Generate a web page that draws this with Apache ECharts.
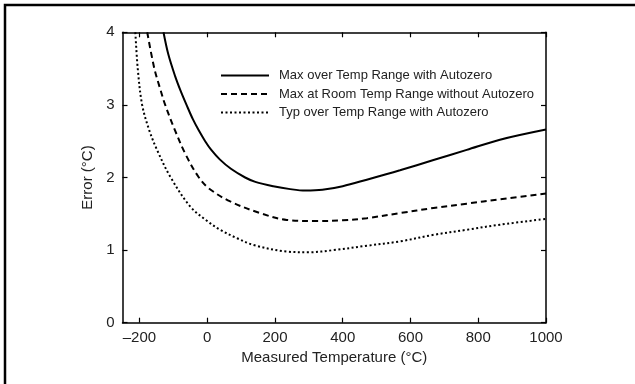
<!DOCTYPE html>
<html><head><meta charset="utf-8">
<script src="https://cdn.jsdelivr.net/npm/echarts@6/dist/echarts.min.js"></script>
<style>html,body{margin:0;padding:0;background:#fff}#c{width:635px;height:384px}</style>
</head><body><div id="c"></div>
<script>
const xTicks = [-200, 0, 200, 400, 600, 800, 1000];
const yTicks = [0, 1, 2, 3, 4];
const seriesNames = ['Max over Temp Range with Autozero', 'Max at Room Temp Range without Autozero', 'Typ over Temp Range with Autozero'];

const solidT = [-129, -115, -95, -79, -61, -42, -25, -6, 12, 37, 70, 112, 142, 195, 245, 290, 340, 400, 471, 569, 668, 766, 864, 1000];
const solidE = [4.0, 3.7, 3.4, 3.2, 3.0, 2.8, 2.65, 2.5, 2.38, 2.25, 2.12, 2.0, 1.94, 1.88, 1.84, 1.82, 1.83, 1.88, 1.97, 2.10, 2.24, 2.38, 2.52, 2.66];

const dashT = [-177, -156, -140, -124, -95, -65, -26, 5, 68, 156, 235, 324, 400, 471, 569, 668, 766, 864, 1000];
const dashE = [4.0, 3.5, 3.24, 3.0, 2.65, 2.33, 2.01, 1.85, 1.67, 1.51, 1.415, 1.40, 1.41, 1.44, 1.51, 1.58, 1.64, 1.70, 1.78];

const dotT = [-212, -205, -192, -171, -148, -109, -50, 0, 38, 90, 137, 235, 300, 373, 471, 569, 668, 766, 864, 1000];
const dotE = [4.0, 3.5, 3.0, 2.65, 2.38, 2.01, 1.60, 1.40, 1.28, 1.16, 1.07, 0.98, 0.97, 1.00, 1.06, 1.12, 1.21, 1.28, 1.35, 1.43];

const pair = (xs, ys) => xs.map((x, i) => [x, ys[i]]);
const fmtX = v => (v < 0 ? '\u2013' + Math.abs(v) : String(v));

const font = 'Liberation Sans, Arial, Helvetica, sans-serif';
const txt = '#222';
const axisLine = { show: true, onZero: false, lineStyle: { color: '#000', width: 1.5 } };
const tick = { show: true, inside: true, length: 5, lineStyle: { color: '#000', width: 1.2 } };

const chart = echarts.init(document.getElementById('c'), null, { renderer: 'canvas' });
chart.setOption({
  animation: false,
  backgroundColor: '#fff',
  textStyle: { fontFamily: font },
  grid: { left: 122.5, right: 89, top: 32.3, bottom: 61.3, containLabel: false },
  legend: {
    orient: 'vertical', left: 215, top: 64,
    itemWidth: 48, itemHeight: 12, itemGap: 5.5,
    itemStyle: { opacity: 0, color: 'transparent', borderWidth: 0 },
    textStyle: { fontFamily: font, fontSize: 13, color: txt, padding: [0, 0, 0, 5] },
    data: seriesNames
  },
  xAxis: [{
    type: 'value', min: -250, max: 1000, position: 'bottom',
    name: 'Measured Temperature (\u00b0C)', nameLocation: 'middle', nameGap: 28,
    nameTextStyle: { fontFamily: font, fontSize: 15, color: txt },
    axisLine: axisLine,
    axisTick: Object.assign({ customValues: xTicks }, tick),
    axisLabel: { customValues: xTicks, formatter: fmtX, fontFamily: font, fontSize: 15, color: txt, margin: 8 },
    splitLine: { show: false }
  }, {
    type: 'value', min: -250, max: 1000, position: 'top',
    axisLine: axisLine,
    axisTick: Object.assign({ customValues: xTicks }, tick),
    axisLabel: { show: false },
    splitLine: { show: false }
  }],
  yAxis: [{
    type: 'value', min: 0, max: 4, interval: 1, position: 'left',
    name: 'Error (\u00b0C)', nameLocation: 'middle', nameGap: 26,
    nameTextStyle: { fontFamily: font, fontSize: 15, color: txt },
    axisLine: axisLine,
    axisTick: Object.assign({ customValues: yTicks }, tick),
    axisLabel: { customValues: yTicks, fontFamily: font, fontSize: 15, color: txt, margin: 8 },
    splitLine: { show: false }
  }, {
    type: 'value', min: 0, max: 4, interval: 1, position: 'right',
    axisLine: axisLine,
    axisTick: Object.assign({ customValues: yTicks }, tick),
    axisLabel: { show: false },
    splitLine: { show: false }
  }],
  series: [{
    name: seriesNames[0], type: 'line', smooth: 0.35, symbol: 'none', clip: true,
    data: pair(solidT, solidE), color: '#000',
    lineStyle: { color: '#000', width: 2, type: 'solid' }
  }, {
    name: seriesNames[1], type: 'line', smooth: 0.35, symbol: 'none', clip: true,
    data: pair(dashT, dashE), color: '#000',
    lineStyle: { color: '#000', width: 2, type: [6, 4] }
  }, {
    name: seriesNames[2], type: 'line', smooth: 0.35, symbol: 'none', clip: true,
    data: pair(dotT, dotE), color: '#000',
    lineStyle: { color: '#000', width: 2, type: [2, 2.5] }
  }],
  graphic: [{
    type: 'polyline', silent: true,
    shape: { points: [[5, 384], [5, 5], [635, 5]] },
    style: { stroke: '#000', lineWidth: 2.5, fill: null }
  }]
});
</script></body></html>
